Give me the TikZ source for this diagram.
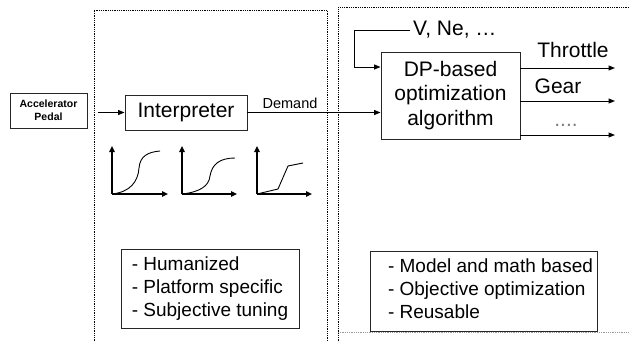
\documentclass[tikz,border=0pt]{standalone}
\usepackage{fontspec}
\setmainfont{Liberation Sans}
\usetikzlibrary{arrows.meta}
\begin{document}
\begin{tikzpicture}[x=1pt,y=-1pt,
  box/.style={draw=black!85, line width=0.9pt, inner sep=0pt, align=center},
  arr/.style={line width=1pt, -{Triangle[length=6.5pt,width=5pt]}},
  axis/.style={line width=1.5pt, -{Triangle[length=6pt,width=5.5pt]}},
  crv/.style={line width=0.9pt},
  region/.style={line width=1pt, dash pattern=on 1pt off 0.8pt, black},
  big/.style={font=\fontsize{21}{24.5}\selectfont},
  mid/.style={font=\fontsize{19}{23.3}\selectfont},
  lbl/.style={inner sep=0pt},
]
\useasboundingbox (0,0) rectangle (629,341);

% dotted regions
\draw[region] (94,345) -- (94,10) -- (327,10) -- (327,345);
\draw[region] (338,345) -- (338,7) -- (635,7);
\draw[region, black!40] (338,332) -- (635,332);

% nodes
\node[box, minimum width=77pt, minimum height=35pt,
      font=\fontsize{10.5}{13}\selectfont\bfseries] (pedal) at (48.5,110.5) {Accelerator\\Pedal};
\node[box, big, minimum width=122pt, minimum height=35pt] (interp) at (186,112.5) {Interpreter};
\node[box, big, minimum width=139pt, minimum height=87pt] (dp) at (450.5,95.5) {DP-based\\optimization\\algorithm};
\node[box, mid, minimum width=178pt, minimum height=79pt, align=left] (hl) at (210,288.5)
  {- Humanized\\- Platform specific\\- Subjective tuning};
\node[box, mid, minimum width=227pt, minimum height=80pt, align=left] (hr) at (483.5,291)
  {\begin{tabular}{@{\hspace{14pt}}l@{}}- Model and math based\\- Objective optimization\\- Reusable\end{tabular}};

% connectors
\coordinate (pin) at (98,112.5);
\draw[arr] (pin) -- (interp.west);
\draw[arr] (interp.east) -- (interp.east -| dp.west);
\node[lbl, font=\fontsize{14.5}{16}\selectfont] (dem) at (290,103) {Demand};

\node[lbl, big, anchor=west] (vne) at (413,30) {V, Ne, …};
\coordinate (fbs) at (410,30);
\draw[arr] (fbs) -- (354,30) |- (dp.west |- 0,67);

\coordinate (o1) at (615,68);
\coordinate (o2) at (615,101);
\coordinate (o3) at (615,135);
\draw[arr] (dp.east |- o1) -- (o1);
\draw[arr] (dp.east |- o2) -- (o2);
\draw[arr] (dp.east |- o3) -- (o3);
\node[lbl, big] (thr) at (573,50) {Throttle};
\node[lbl, big] (gear) at (558,86) {Gear};
\node[lbl, big, text=black!50] (dots) at (566,125) {....};

% graphs
\draw[axis] (112,194) -- (112,146);
\draw[axis] (112,194) -- (168,194);
\draw[crv] (112,194) .. controls (130,192) and (138,182) .. (139,168)
           .. controls (140,156) and (148,152) .. (160,151);

\draw[axis] (182,194) -- (182,146);
\draw[axis] (182,194) -- (237,194);
\draw[crv] (182,194) .. controls (200,192) and (209,186) .. (210,176)
           .. controls (212,164) and (220,158) .. (235,158);

\draw[axis] (257,194) -- (257,146);
\draw[axis] (257,194) -- (312,194);
\draw[crv] (257,194) -- (278,189) -- (288,166) -- (303,163);
\end{tikzpicture}
\end{document}
